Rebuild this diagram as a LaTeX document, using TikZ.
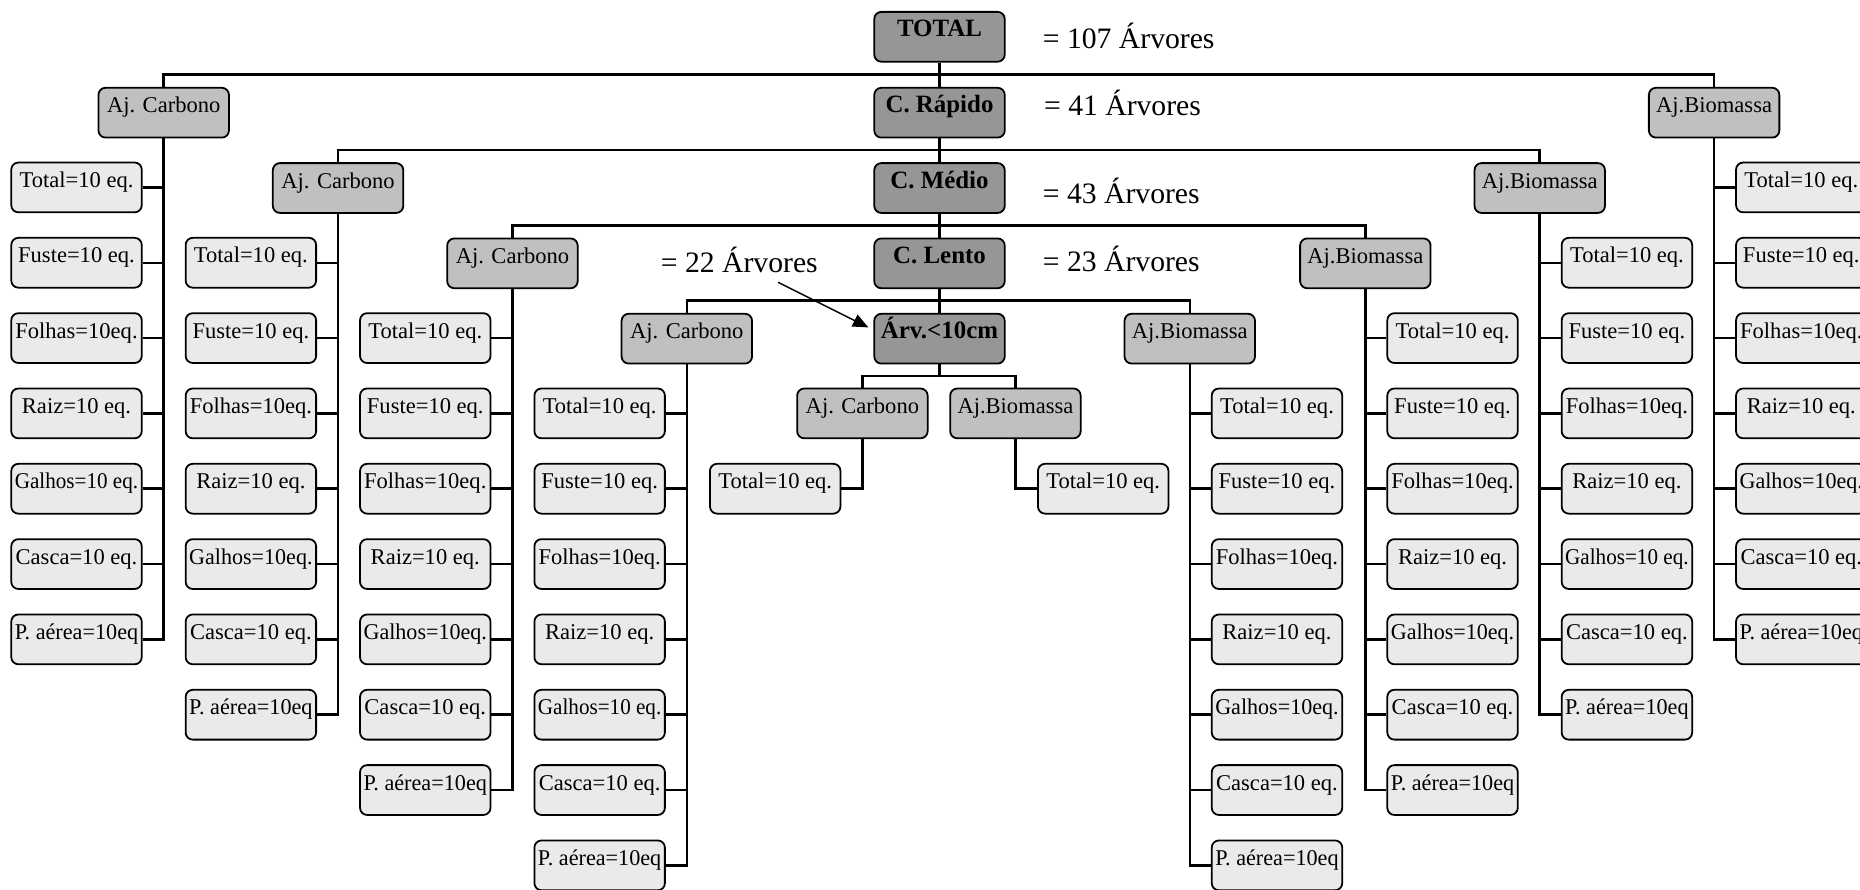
\documentclass[tikz,border=0pt]{standalone}
\usepackage{fontspec}
\setmainfont{Liberation Serif}
\usetikzlibrary{arrows.meta}
\definecolor{cdark}{RGB}{150,150,150}
\definecolor{cmid}{RGB}{192,192,192}
\definecolor{clight}{RGB}{234,234,234}
\newsavebox\fitbox
\newcommand\fitt[1]{\sbox\fitbox{#1}\ifdim\wd\fitbox>104pt\resizebox{104pt}{\height}{\usebox\fitbox}\else\usebox\fitbox\fi}
\tikzset{
  box/.style={draw=black, line width=1.5pt, rounded corners=6pt, minimum width=110pt, inner sep=0pt, text height=21pt, text depth=21pt},
  treebox/.style={box, fill=cdark, font=\fontsize{21}{24}\selectfont\bfseries},
  ajbox/.style={box, fill=cmid, font=\fontsize{19}{22}\selectfont},
  leafbox/.style={box, fill=clight, font=\fontsize{19}{22}\selectfont},
  conn/.style={line width=2.1pt},
  note/.style={anchor=base west, inner sep=0pt, font=\fontsize{25}{29}\selectfont}
}
% #1 prefix, #2 parent, #3 trunk x, #4 side sign, #5 first row, #6 galhos text, #7 anchor
\newcommand\leafcol[7]{%
  \foreach \t [count=\k from 0] in {Total=10 eq.,Fuste=10 eq.,Folhas=10eq.,Raiz=10 eq.,#6,Casca=10 eq.,P. aérea=10eq}{
    \node[leafbox] (#1\k) at ({#3+#4*73.5},{31+63.5*(#5+\k)}) {\fitt{\t}};
    \draw[conn] (#2.south) |- (#1\k.#7);
  }%
}
\begin{document}
\begin{tikzpicture}[x=1pt,y=-1pt]
\clip (0,0) rectangle (1568,750);
\fill[white] (0,0) rectangle (1568,750);
% main column
\node[treebox] (TOT) at (792,31) {TOTAL};
\node[treebox] (CR) at (792,95) {C. Rápido};
\node[treebox] (CM) at (792,158.5) {C. Médio};
\node[treebox] (CL) at (792,222) {C. Lento};
\node[treebox] (ARV) at (792,285.5) {Árv.<10cm};
% adjustment boxes
\node[ajbox] (AC1) at (138,95) {Aj. Carbono};
\node[ajbox] (AB1) at (1445,95) {Aj.Biomassa};
\node[ajbox] (AC2) at (285,158.5) {Aj. Carbono};
\node[ajbox] (AB2) at (1298,158.5) {Aj.Biomassa};
\node[ajbox] (AC3) at (432,222) {Aj. Carbono};
\node[ajbox] (AB3) at (1151,222) {Aj.Biomassa};
\node[ajbox] (AC4) at (579,285.5) {Aj. Carbono};
\node[ajbox] (AB4) at (1003,285.5) {Aj.Biomassa};
\node[ajbox] (AC5) at (727,348.5) {Aj. Carbono};
\node[ajbox] (AB5) at (856,348.5) {Aj.Biomassa};
\node[leafbox] (T5L) at (653.5,412) {\fitt{Total=10 eq.}};
\node[leafbox] (T5R) at (930,412) {\fitt{Total=10 eq.}};
% bus coordinates
\coordinate (b1) at (792,63);
\coordinate (b2) at (792,126.5);
\coordinate (b3) at (792,190);
\coordinate (b4) at (792,253.5);
\coordinate (b5) at (792,317);
% connectors of main tree
\draw[conn] (TOT.south) -- (CR.north);
\draw[conn] (CR.south) -- (CM.north);
\draw[conn] (CM.south) -- (CL.north);
\draw[conn] (CL.south) -- (ARV.north);
\draw[conn] (ARV.south) -- (b5);
\draw[conn] (AC1.north) |- (b1) -| (AB1.north);
\draw[conn] (AC2.north) |- (b2) -| (AB2.north);
\draw[conn] (AC3.north) |- (b3) -| (AB3.north);
\draw[conn] (AC4.north) |- (b4) -| (AB4.north);
\draw[conn] (AC5.north) |- (b5) -| (AB5.north);
\draw[conn] (AC5.south) |- (T5L.east);
\draw[conn] (AB5.south) |- (T5R.west);
% leaf columns
\leafcol{A}{AC1}{138}{-1}{2}{Galhos=10 eq.}{east}
\leafcol{B}{AC2}{285}{-1}{3}{Galhos=10eq.}{east}
\leafcol{C}{AC3}{432}{-1}{4}{Galhos=10eq.}{east}
\leafcol{D}{AC4}{579}{-1}{5}{Galhos=10 eq.}{east}
\leafcol{E}{AB4}{1003}{1}{5}{Galhos=10eq.}{west}
\leafcol{F}{AB3}{1151}{1}{4}{Galhos=10eq.}{west}
\leafcol{G}{AB2}{1298}{1}{3}{Galhos=10 eq.}{west}
\leafcol{H}{AB1}{1445}{1}{2}{Galhos=10eq.}{west}
% annotations
\node[note] (N107) at (879,41) {= 107 Árvores};
\node[note] (N41) at (880,97) {= 41 Árvores};
\node[note] (N43) at (879,171.5) {= 43 Árvores};
\node[note] (N23) at (879,229) {= 23 Árvores};
\node[note] (N22) at (557,230) {= 22 Árvores};
\coordinate (atail) at (656,238);
\coordinate (atip) at (732,276);
\draw[line width=1.3pt, -{Triangle[length=13pt,width=11pt]}] (atail) -- (atip);
\end{tikzpicture}
\end{document}
